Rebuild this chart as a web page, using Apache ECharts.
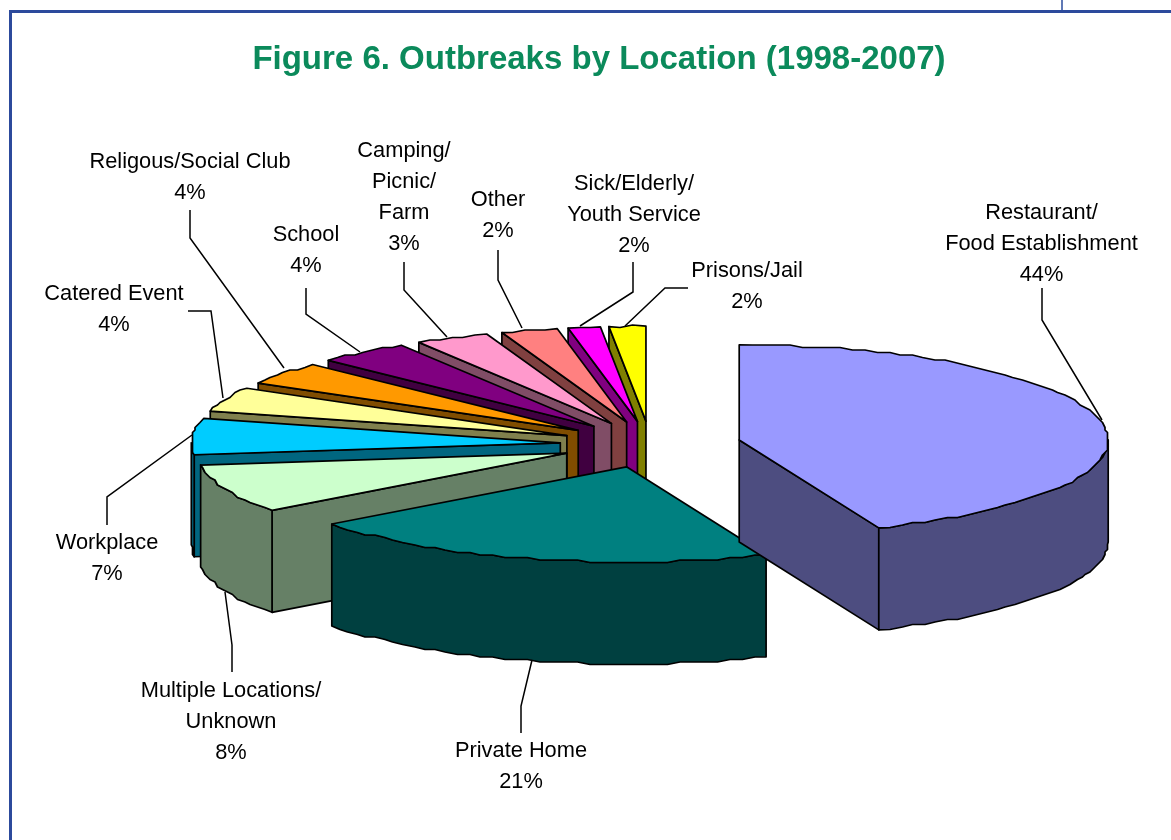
<!DOCTYPE html>
<html><head><meta charset="utf-8">
<style>html,body{margin:0;padding:0;background:#fff}#c{width:1171px;height:840px}</style>
<script src="https://cdn.jsdelivr.net/npm/echarts@6/dist/echarts.min.js"></script>
</head><body><div id="c"></div>
<script>
// ---- data (clockwise from 12 o'clock) ----
const categories = ['Restaurant/\nFood Establishment','Private Home','Multiple Locations/\nUnknown','Workplace','Catered Event','Religous/Social Club','School','Camping/\nPicnic/\nFarm','Other','Sick/Elderly/\nYouth Service','Prisons/Jail'];
const labelPercents = [44,21,8,7,4,4,4,3,2,2,2];
// slice sweep as drawn in the picture (share of the circle)
const drawnShares = [43.83,20.9,8.28,6.13,4.16,3.92,4.05,3.25,2.48,1.41,1.6];
const topColors  = ['#9999FF','#008080','#CCFFCC','#00CCFF','#FFFF99','#FF9900','#800080','#FF99CC','#FF8080','#FF00FF','#FFFF00'];
const sideColors = ['#4D4D80','#004040','#668066','#006680','#80804D','#804D00','#400040','#804D66','#804040','#800080','#808000'];
// ---- layout ----
const pie = {cx:650.5, cy:444.4, rx:369, ry:95, depth:102, explode:0.245, snap:2.5, step:2};
const labelCenters = [[1041.5,213],[521,751],[231,691],[107,543],[114,294],[190,162],[306,235],[404,151],[498,200],[634,184],[747,271]];
const leaders = [
 [[1042,288],[1042,320],[1102,420]],[[521,733],[521,706],[532,660]],[[232,672],[232,645],[225,592]],
 [[107,525],[107,497],[192,435]],[[188,311],[211,311],[223,398]],[[190,210],[190,238],[284,368]],
 [[306,288],[306,314],[360,352]],[[404,262],[404,290],[447,337]],[[498,250],[498,280],[522,328]],
 [[633,262],[633,292],[580,326]],[[688,288],[665,288],[625,326]]];
const labelFont = '21.8px "Liberation Sans", Arial, sans-serif';
const lineGap = 31;

const total = drawnShares.reduce((a,b)=>a+b,0);
const rad = d=>d*Math.PI/180;
let acc = 0;
const slices = drawnShares.map(v=>{const a=acc/total*360; acc+=v; return {a, b:acc/total*360};});

function slicePaths(i){
  const {a,b} = slices[i], mid = rad((a+b)/2);
  const ox = pie.cx + pie.explode*pie.rx*Math.sin(mid), oy = pie.cy - pie.explode*pie.ry*Math.cos(mid);
  const at = (t,dz=0,sn=true)=>{
    let x = ox+pie.rx*Math.sin(rad(t)), y = oy-pie.ry*Math.cos(rad(t));
    if(sn){x=Math.round(x/pie.snap)*pie.snap; y=Math.round(y/pie.snap)*pie.snap;}
    return [x,y+dz];
  };
  const arc = (s,e,dz)=>{
    const pts=[at(s,dz,false)], n=Math.max(2,Math.ceil((e-s)/pie.step));
    for(let k=1;k<n;k++) pts.push(at(s+(e-s)*k/n,dz));
    pts.push(at(e,dz,false)); return pts;
  };
  const els=[];
  const poly=(points,fill)=>els.push({type:'polygon',shape:{points},style:{fill,stroke:'#000',lineWidth:1.7,lineJoin:'round'}});
  const side = sideColors[i], apex=[ox,oy], apexD=[ox,oy+pie.depth];
  const s0=at(a,0,false), s1=at(b,0,false);
  if(a>180) poly([apex,s0,[s0[0],s0[1]+pie.depth],apexD],side);
  if(b<180) poly([apex,s1,[s1[0],s1[1]+pie.depth],apexD],side);
  const ws=Math.max(a,90), we=Math.min(b,270);
  if(we>ws) poly(arc(ws,we,0).concat(arc(ws,we,pie.depth).reverse()),side);
  poly([apex].concat(arc(a,b,0)),topColors[i]);
  return els;
}

const chart = echarts.init(document.getElementById('c'),null,{renderer:'canvas'});
chart.setOption({
  animation:false,
  backgroundColor:'#fff',
  title:{text:'Figure 6. Outbreaks by Location (1998-2007)',left:594,top:38,textAlign:'center',
    textStyle:{fontFamily:'"Liberation Sans", Arial, sans-serif',fontWeight:'bold',fontSize:33,color:'#0B8A5B'}},
  graphic:[
    {type:'rect',shape:{x:9,y:10,width:3,height:830},style:{fill:'#2C4A9C'},silent:true},
    {type:'rect',shape:{x:9,y:10,width:1162,height:3},style:{fill:'#2C4A9C'},silent:true},
    {type:'rect',shape:{x:1061,y:0,width:2,height:10},style:{fill:'#6079B5'},silent:true}
  ],
  series:[
    {type:'custom',coordinateSystem:'none',silent:true,z:2,
     data:categories.map((c,i)=>categories.length-1-i),
     renderItem:(p,api)=>({type:'group',children:slicePaths(api.value(0))})},
    {type:'custom',coordinateSystem:'none',silent:true,z:3,
     data:categories.map((c,i)=>i),
     renderItem:(p,api)=>{
       const i=api.value(0), lines=categories[i].split('\n').concat(labelPercents[i]+'%');
       const [lx,ly]=labelCenters[i];
       const children=[{type:'polyline',shape:{points:leaders[i]},style:{fill:null,stroke:'#000',lineWidth:1.5}}];
       lines.forEach((t,k)=>children.push({type:'text',style:{text:t,x:lx,y:ly+k*lineGap,textAlign:'center',textVerticalAlign:'middle',font:labelFont,fill:'#000'}}));
       return {type:'group',children};
     }}
  ]
});
</script></body></html>
